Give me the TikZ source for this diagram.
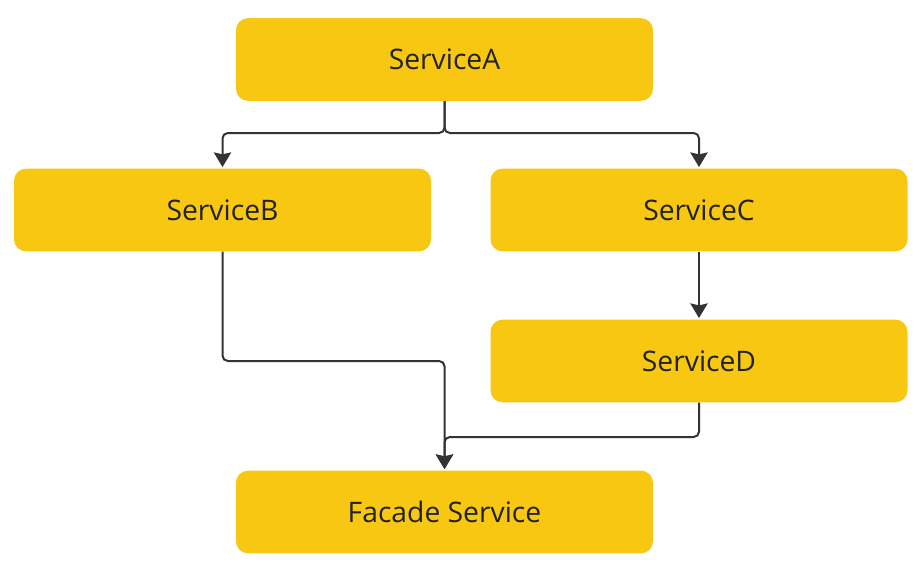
\documentclass[tikz,border=0pt]{standalone}
\usepackage{fontspec}
\setmainfont{Open Sans}
\usetikzlibrary{arrows.meta}
\definecolor{boxy}{HTML}{F8C712}
\definecolor{linec}{HTML}{333333}
\definecolor{textc}{HTML}{222222}
\tikzset{
  svc/.style={fill=boxy, draw=none, rounded corners=9pt, minimum width=312.75pt, minimum height=62pt, inner sep=0pt, text=textc, font=\fontsize{21.2}{24}\selectfont},
  conn/.style={draw=linec, line width=1.5pt, rounded corners=4pt},
  arr/.style={conn, -{Stealth[length=11pt,width=13pt,inset=1.5pt]}, shorten >=1pt}
}
\begin{document}
\begin{tikzpicture}[x=0.75pt,y=-0.75pt]
\useasboundingbox (0,0) rectangle (924,565);
\node[svc] (A) at (444.5,59.5) {\raisebox{-1.5pt}{ServiceA}};
\node[svc] (B) at (222.5,210) {\raisebox{-1.5pt}{ServiceB}};
\node[svc] (C) at (699,210) {\raisebox{-1.5pt}{ServiceC}};
\node[svc] (D) at (699,361) {\raisebox{-1.5pt}{ServiceD}};
\node[svc] (F) at (444.5,512) {\raisebox{-1.5pt}{Facade Service}};
\coordinate (s1) at (444.5,133);
\draw[arr] (A.south) -- (s1) -| (B.north);
\draw[arr] (A.south) -- (s1) -| (C.north);
\draw[arr] (C.south) -- (D.north);
\draw[arr] (B.south) |- (444.5,361) -- (F.north);
\draw[arr] (D.south) |- (444.5,437) -- (F.north);
\end{tikzpicture}
\end{document}
